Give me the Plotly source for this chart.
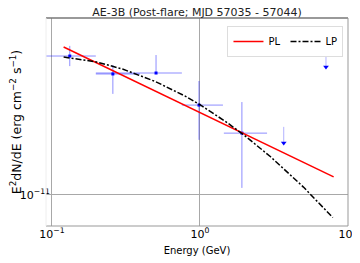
import plotly.graph_objects as go

# ---- data ----
pt_E = [0.132, 0.258, 0.505, 0.985, 1.92]
pt_F = [4.59e-11, 3.77e-11, 3.81e-11, 2.68e-11, 1.97e-11]
pt_xminus = [0.044, 0.060, 0.307, 0.23, 0.47]
pt_xplus = [0.066, 0.135, 0.25, 0.445, 0.92]
pt_yminus = [0.48e-11, 0.74e-11, 0.0, 0.85e-11, 0.89e-11]
pt_yplus = [0.54e-11, 0.39e-11, 0.83e-11, 0.81e-11, 0.80e-11]

ul_E = [3.68, 7.1]
ul_F = [2.11e-11, 4.9e-11]
ul_end = [1.77e-11, 4.07e-11]

pl_E = [0.12, 8.0]
pl_F = [5.07e-11, 1.22e-11]

lp_E = [0.12, 0.2, 0.3, 0.5, 0.8, 1.0, 1.5, 2.0, 3.0, 5.0, 7.9]
lp_F = [4.54e-11, 4.30e-11, 3.98e-11, 3.47e-11, 2.95e-11, 2.69e-11,
        2.23e-11, 1.92e-11, 1.52e-11, 1.09e-11, 7.8e-12]

x_tickvals = [0.1, 1, 10]
x_ticktext = ["10<sup>−1</sup>", "10<sup>0</sup>", "10<sup>1</sup>"]
y_tickvals = [1e-11]
y_ticktext = ["10<sup>−11</sup>"]

FONT = "DejaVu Sans"
bar_col = "rgba(0,0,255,0.45)"

fig = go.Figure()

# data points, one trace each so overlapping bars darken like the reference
for i in range(len(pt_E)):
    fig.add_trace(go.Scatter(
        x=[pt_E[i]], y=[pt_F[i]], mode="markers",
        marker=dict(symbol="square", size=3, color="blue"),
        error_x=dict(type="data", symmetric=False, array=[pt_xplus[i]],
                     arrayminus=[pt_xminus[i]], color=bar_col, thickness=1, width=0),
        error_y=dict(type="data", symmetric=False, array=[pt_yplus[i]],
                     arrayminus=[pt_yminus[i]], color=bar_col, thickness=1, width=0),
        showlegend=False, hoverinfo="skip"))

# upper limits
for i in range(len(ul_E)):
    fig.add_trace(go.Scatter(
        x=[ul_E[i], ul_E[i]], y=[ul_F[i], ul_end[i]], mode="lines",
        line=dict(color="rgba(0,0,255,0.3)", width=1),
        showlegend=False, hoverinfo="skip"))
    fig.add_trace(go.Scatter(
        x=[ul_E[i]], y=[ul_end[i]], mode="markers",
        marker=dict(symbol="triangle-down", size=5, color="blue"),
        showlegend=False, hoverinfo="skip"))

fig.add_trace(go.Scatter(x=pl_E, y=pl_F, mode="lines", name="PL",
                         line=dict(color="red", width=1.5)))
fig.add_trace(go.Scatter(x=lp_E, y=lp_F, mode="lines", name="LP",
                         line=dict(color="black", width=1.5, dash="6px,2px,2px,2px")))

W, H = 352, 255
fig.update_layout(
    width=W, height=H,
    margin=dict(l=38, r=12, t=10, b=37),
    paper_bgcolor="white", plot_bgcolor="white",
    font=dict(family=FONT, size=10, color="black"),
    title=dict(text="AE-3B (Post-flare; MJD 57035 - 57044)", x=0.537, xanchor="center",
               y=1.0, yanchor="top", pad=dict(t=0, b=0),
               font=dict(family=FONT, size=11, color="#222")),
    legend=dict(orientation="h", x=0.985, xanchor="right", y=0.962, yanchor="top",
                bgcolor="white", bordercolor="#dddddd", borderwidth=1,
                font=dict(family=FONT, size=10), itemwidth=30,
                tracegroupgap=0),
    xaxis=dict(type="log", range=[-1.04, 1.0], tickmode="array",
               tickvals=x_tickvals, ticktext=x_ticktext, automargin=False,
               showgrid=True, gridcolor="#a8a8a8", gridwidth=1,
               zeroline=False, showline=False, ticks="", ticklen=0,
               tickfont=dict(family=FONT, size=11),
               title=dict(text="Energy (GeV)", font=dict(family=FONT, size=10), standoff=6)),
    yaxis=dict(type="log", range=[-11.148, -10.157], tickmode="array",
               tickvals=y_tickvals, ticktext=y_ticktext, automargin=False,
               ticklabelstandoff=-5,
               showgrid=True, gridcolor="#a8a8a8", gridwidth=1,
               zeroline=False, showline=False, ticks="", ticklen=0,
               tickfont=dict(family=FONT, size=11),
               title=dict(text="E<sup>2</sup>dN/dE (erg cm<sup>−2</sup> s<sup>−1</sup>)",
                          font=dict(family=FONT, size=12.5), standoff=2)),
    shapes=[
        dict(type="line", xref="x domain", yref="y domain", x0=0, x1=1, y0=1, y1=1,
             line=dict(color="#777777", width=1.5)),
        dict(type="line", xref="x domain", yref="y domain", x0=1, x1=1, y0=0, y1=1,
             line=dict(color="#999999", width=1)),
        dict(type="line", xref="x domain", yref="y domain", x0=0, x1=1, y0=0, y1=0,
             line=dict(color="#999999", width=1)),
        dict(type="line", xref="x domain", yref="y domain", x0=0, x1=0, y0=0, y1=1,
             line=dict(color="#eeeeee", width=1)),
    ],
)

fig.write_html("out.html")
